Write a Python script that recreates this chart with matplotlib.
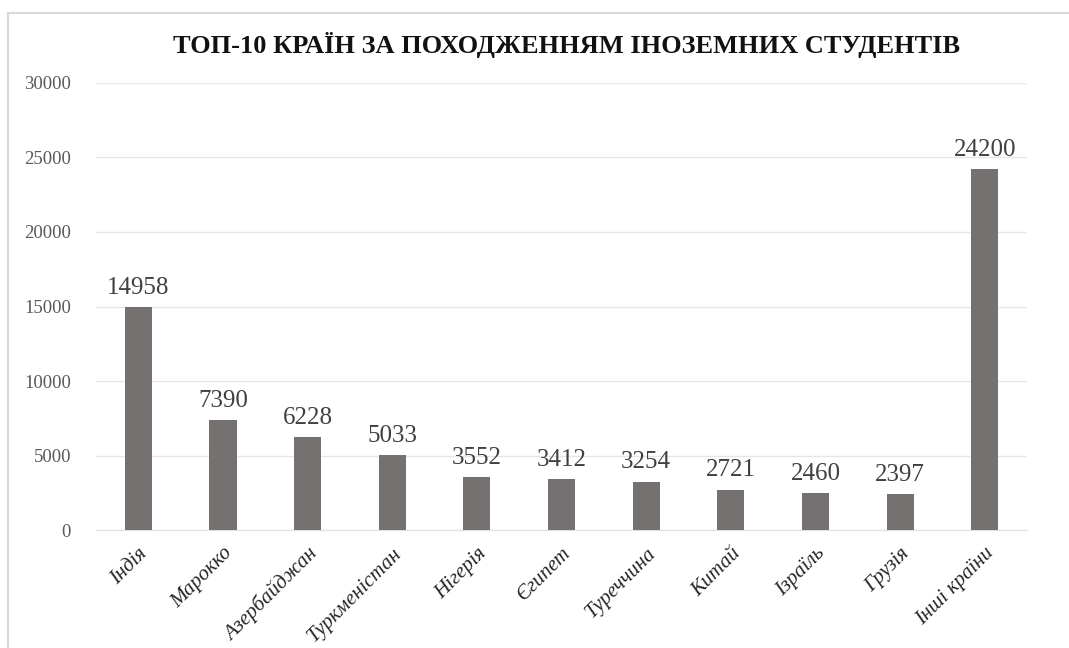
import matplotlib.pyplot as plt
from matplotlib.patches import Rectangle

# Дані
countries = ['Індія', 'Марокко', 'Азербайджан', 'Туркменістан', 'Нігерія', 'Єгипет',
             'Туреччина', 'Китай', 'Ізраїль', 'Грузія', 'Інші країни']
students = [14958, 7390, 6228, 5033, 3552, 3412, 3254, 2721, 2460, 2397, 24200]
y_ticks = [0, 5000, 10000, 15000, 20000, 25000, 30000]

plt.rcParams['font.family'] = ['Liberation Serif', 'DejaVu Serif']

fig = plt.figure(figsize=(10.69, 6.48), dpi=100)
ax = fig.add_axes([0.0898, 0.182, 0.871, 0.690])

# рамка навколо діаграми
fig.patches.append(Rectangle((8 / 1069, -0.01), 1.02, 1 - 13 / 648 + 0.01,
                             transform=fig.transFigure, fill=False,
                             edgecolor='#d9d9d9', lw=1.5))

x = range(len(countries))
bars = ax.bar(x, students, width=0.32, color='#767171', zorder=3)

for bar, val in zip(bars, students):
    ax.annotate(str(val), (bar.get_x() + bar.get_width() / 2, val),
                xytext=(0, 6), textcoords='offset points',
                ha='center', va='bottom', fontsize=18, color='#404040')

ax.set_xlim(-0.5, len(countries) - 0.5)
ax.set_ylim(0, 30000)
ax.set_yticks(y_ticks)
ax.set_yticklabels([str(t) for t in y_ticks], fontsize=13.5, color='#595959')
ax.grid(axis='y', color='#e6e6e6', lw=1, zorder=0)

ax.set_xticks(list(x))
ax.set_xticklabels(countries, rotation=45, ha='right', rotation_mode='anchor',
                   fontsize=15, style='italic', color='#262626')

ax.tick_params(axis='both', length=0)
ax.tick_params(axis='y', pad=18)
ax.tick_params(axis='x', pad=10)
for side in ['top', 'right', 'left']:
    ax.spines[side].set_visible(False)
ax.spines['bottom'].set_color('#e0e0e0')

fig.text(0.53, 0.93, 'ТОП-10 КРАЇН ЗА ПОХОДЖЕННЯМ ІНОЗЕМНИХ СТУДЕНТІВ',
         ha='center', va='center', fontsize=19, fontweight='bold', color='#111111')

fig.savefig('out.png', dpi=100)
